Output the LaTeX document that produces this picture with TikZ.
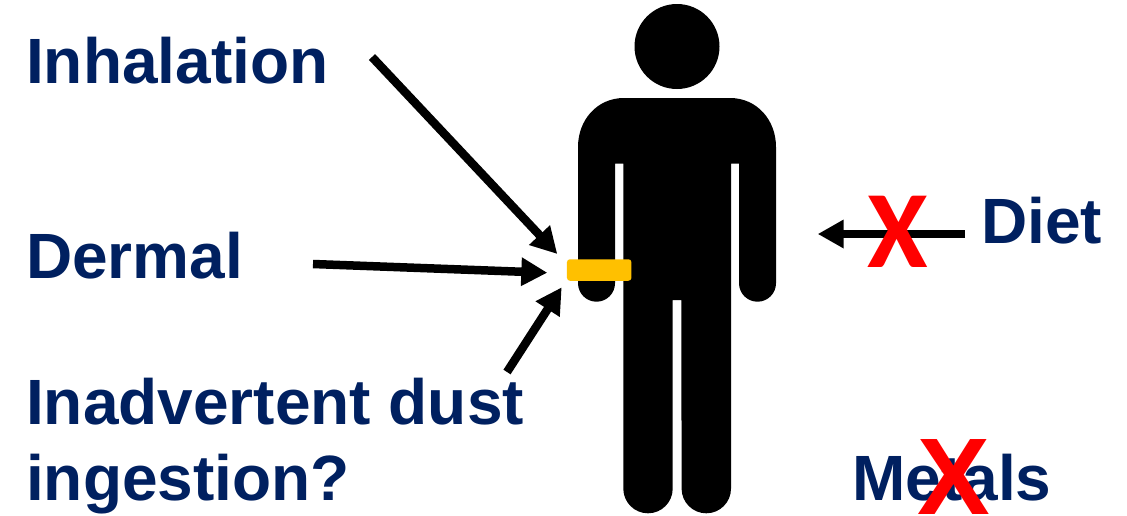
\documentclass[tikz,border=0pt]{standalone}
\usepackage{fontspec}
\setmainfont{Liberation Sans}
\newfontfamily\xfont{Carlito}
\usetikzlibrary{arrows.meta}
\definecolor{navy}{HTML}{002060}
\definecolor{band}{HTML}{FFC000}
\tikzset{
  x=1pt,y=-1pt,
  label text/.style={inner sep=0pt,anchor=base west,text=navy,font=\fontsize{64}{64}\selectfont\bfseries},
  expo/.style={line width=8.5pt,draw=black,-{Triangle[length=26pt,width=27pt]}},
  cross a/.style={inner sep=0pt,anchor=base,text=red,font=\fontsize{110}{110}\selectfont\xfont\bfseries},
  cross b/.style={inner sep=0pt,anchor=base,text=red,font=\fontsize{109}{109}\selectfont\bfseries},
  figure/.style={fill=black,draw=none}
}
\begin{document}
\begin{tikzpicture}
\useasboundingbox (0,0) rectangle (1127,515);
% person
\fill[figure] (677,46.5) circle[radius=42.5];
\fill[figure] (578,147)
  .. controls (578,120) and (597,98) .. (624,98)
  -- (730,98)
  .. controls (757,98) and (776,120) .. (776,147)
  -- (776,283.2) arc[start angle=0,end angle=180,radius=18.5]
  -- (739,163.5) -- (731,163.5)
  -- (731,488.6) arc[start angle=0,end angle=180,radius=24.7]
  -- (681.3,300) -- (672.7,300)
  -- (672.7,488.6) arc[start angle=0,end angle=180,radius=24.7]
  -- (623.3,163.5) -- (615,163.5)
  -- (615,283.2) arc[start angle=0,end angle=180,radius=18.5]
  -- cycle;
\node[fill=band,draw=none,rounded corners=3pt,minimum width=64.5pt,minimum height=21.5pt,inner sep=0pt] (wristband) at (599.2,270) {};
% labels
\node[label text] (inh) at (26,83) {Inhalation};
\node[label text] (der) at (26,278) {Dermal};
\node[label text] (dust) at (26,424) {Inadvertent dust};
\node[label text] (ing) at (26,500) {ingestion?};
\node[label text] (diet) at (981,243) {Diet};
\node[label text] (metals) at (852,500) {Metals};
% connector ends
\coordinate (a1) at (372,57);
\coordinate (b1) at (557.3,254);
\coordinate (a2) at (313,264);
\coordinate (b2) at (547.3,272.7);
\coordinate (a3) at (507,372);
\coordinate (b3) at (561.7,287.3);
\coordinate (a4) at (965,234);
\coordinate (b4) at (817.7,234);
\draw[expo] (a1) -- (b1);
\draw[expo] (a2) -- (b2);
\draw[expo] (a3) -- (b3);
\draw[expo] (a4) -- (b4);
% crosses
\node[cross a] (xdiet) at (898,267) {X};
\node[cross b] (xmetals) at (953.5,514.5) {X};
\end{tikzpicture}
\end{document}
